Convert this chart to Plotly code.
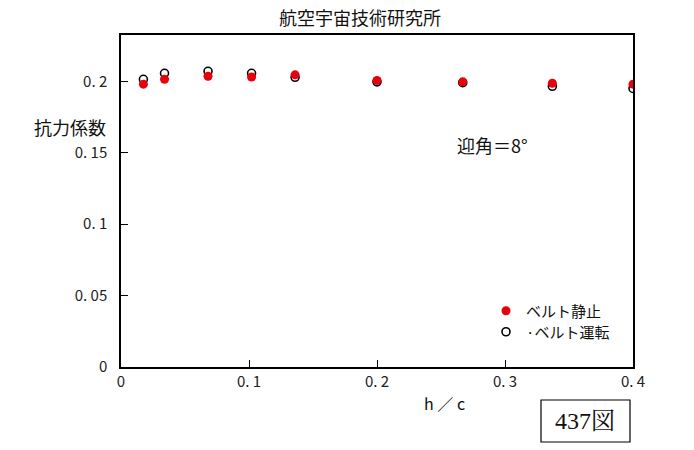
import plotly.graph_objects as go

# Data
h_c = [0.0175, 0.034, 0.068, 0.102, 0.136, 0.200, 0.267, 0.337, 0.400]
cd_belt_stop = [0.1980, 0.2014, 0.2035, 0.2030, 0.2045, 0.2006, 0.1996, 0.1986, 0.1980]
cd_belt_run = [0.2014, 0.2056, 0.2070, 0.2056, 0.2028, 0.1996, 0.1990, 0.1965, 0.1950]

x_ticks = [0, 0.1, 0.2, 0.3, 0.4]
x_ticktext = ["0", "0. 1", "0. 2", "0. 3", "0. 4"]
y_ticks = [0, 0.05, 0.1, 0.15, 0.2]
y_ticktext = ["0", "0. 05", "0. 1", "0. 15", "0. 2"]

W, H = 694, 450
L, R, T, B = 121, 633, 35, 367
PW, PH = R - L, B - T


def px(x):
    return (x - L) / PW


def py(y):
    return (B - y) / PH


JP = "Noto Sans CJK JP"

fig = go.Figure()
fig.add_trace(go.Scatter(
    x=h_c, y=cd_belt_run, mode="markers", name="·ベルト運転", legend="legend2",
    marker=dict(symbol="circle-open", size=8, color="black", line=dict(width=1.6)),
))
fig.add_trace(go.Scatter(
    x=h_c, y=cd_belt_stop, mode="markers", name="ベルト静止", legend="legend",
    marker=dict(symbol="circle", size=9, color="#e8000b", line=dict(width=0)),
))

axis_common = dict(
    showline=True, linecolor="black", linewidth=1.5, mirror=True,
    ticks="inside", ticklen=7, tickwidth=1.2, tickcolor="black",
    showgrid=False, zeroline=False,
    tickfont=dict(family=JP, size=15, color="#222"),
)
fig.update_xaxes(range=[0, 0.4], tickvals=x_ticks, ticktext=x_ticktext, **axis_common)
fig.update_yaxes(range=[0, 0.2324], tickvals=y_ticks, ticktext=y_ticktext,
                 ticklabelstandoff=9, **axis_common)

anns = [
    dict(text="航空宇宙技術研究所", x=px(360), y=py(17), font=dict(size=18)),
    dict(text="抗力係数", x=px(70), y=py(127), font=dict(size=18)),
    dict(text="迎角＝8°", x=px(492), y=py(145), font=dict(size=18)),
    dict(text="h ／ c", x=px(444), y=py(403), font=dict(size=16)),
    dict(text="437図", x=px(585), y=py(421),
         font=dict(size=24, family="Liberation Serif, Noto Serif CJK JP, serif")),
]
for a in anns:
    font = dict(family=JP, color="#111")
    font.update(a.pop("font"))
    fig.add_annotation(xref="paper", yref="paper", showarrow=False,
                       xanchor="center", yanchor="middle", font=font, **a)

fig.add_shape(type="rect", xref="paper", yref="paper",
              x0=px(541), x1=px(630), y0=py(400), y1=py(442),
              line=dict(color="black", width=1.2))

leg_common = dict(xanchor="left", yanchor="middle", bgcolor="rgba(0,0,0,0)",
                  font=dict(family=JP, size=15, color="#111"), itemwidth=30)
fig.update_layout(
    width=W, height=H,
    margin=dict(l=L, r=W - R, t=T, b=H - B),
    paper_bgcolor="white", plot_bgcolor="white",
    font=dict(family=JP, color="#111"),
    showlegend=True,
    legend=dict(x=px(486), y=py(311), **leg_common),
    legend2=dict(x=px(486), y=py(332), **leg_common),
)

fig.write_html("out.html", post_script="document.body.style.margin='0';",
               config={"displayModeBar": False})
